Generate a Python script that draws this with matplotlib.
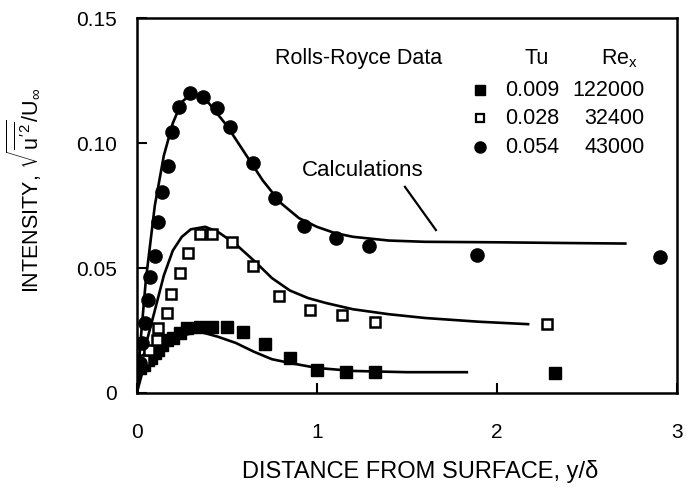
import matplotlib
matplotlib.use('Agg')
import matplotlib.pyplot as plt

plt.rcParams['font.family'] = ['Liberation Sans', 'DejaVu Sans']
plt.rcParams['mathtext.fontset'] = 'custom'
plt.rcParams['mathtext.rm'] = 'Liberation Sans'
plt.rcParams['mathtext.it'] = 'Liberation Sans'

# Rolls-Royce data, Tu = 0.009 (filled squares)
sq_x = [0.02, 0.04, 0.06, 0.08, 0.10, 0.12, 0.14, 0.17, 0.20, 0.24, 0.28,
        0.35, 0.42, 0.50, 0.59, 0.71, 0.85, 1.00, 1.16, 1.32, 2.32]
sq_y = [0.010, 0.011, 0.013, 0.014, 0.016, 0.017, 0.019, 0.021, 0.022, 0.024, 0.026,
        0.0265, 0.0265, 0.0265, 0.0245, 0.0196, 0.0141, 0.0092, 0.0085, 0.0085, 0.0081]

# Tu = 0.028 (open squares)
osq_x = [0.04, 0.07, 0.11, 0.12, 0.165, 0.19, 0.24, 0.285, 0.35, 0.42, 0.53,
         0.646, 0.79, 0.96, 1.14, 1.32, 2.28]
osq_y = [0.013, 0.017, 0.021, 0.026, 0.032, 0.0395, 0.048, 0.056, 0.0635, 0.0635, 0.0605,
         0.051, 0.039, 0.033, 0.031, 0.0285, 0.0275]

# Tu = 0.054 (filled circles)
circ_x = [0.02, 0.03, 0.045, 0.06, 0.072, 0.10, 0.115, 0.139, 0.174, 0.196, 0.235,
          0.298, 0.368, 0.446, 0.517, 0.643, 0.767, 0.928, 1.106, 1.29, 1.89, 2.906]
circ_y = [0.012, 0.020, 0.028, 0.037, 0.0465, 0.055, 0.0685, 0.0805, 0.091, 0.1045, 0.1145,
          0.120, 0.1185, 0.114, 0.1065, 0.092, 0.078, 0.067, 0.062, 0.0588, 0.0552, 0.0543]

# calculations
calc1_x = [0.0, 0.03, 0.08, 0.15, 0.25, 0.35, 0.45, 0.55, 0.65, 0.75, 0.85, 1.0, 1.2, 1.5, 1.84]
calc1_y = [0.0, 0.008, 0.014, 0.019, 0.023, 0.0245, 0.0225, 0.020, 0.0165, 0.0135, 0.012,
           0.0100, 0.0088, 0.0083, 0.0083]

calc2_x = [0.0, 0.03, 0.06, 0.1, 0.15, 0.2, 0.25, 0.3, 0.38, 0.45, 0.55, 0.65, 0.75, 0.85,
           0.95, 1.05, 1.2, 1.4, 1.6, 1.9, 2.18]
calc2_y = [0.0, 0.012, 0.022, 0.033, 0.047, 0.057, 0.0625, 0.0655, 0.0665, 0.0645, 0.0595,
           0.053, 0.046, 0.041, 0.038, 0.036, 0.0335, 0.0315, 0.030, 0.0285, 0.0275]

calc3_x = [0.0, 0.02, 0.05, 0.1, 0.15, 0.2, 0.25, 0.3, 0.35, 0.4, 0.5, 0.6, 0.7, 0.8, 0.9,
           1.0, 1.1, 1.2, 1.4, 1.6, 2.0, 2.4, 2.72]
calc3_y = [0.0, 0.02, 0.045, 0.075, 0.095, 0.108, 0.1165, 0.1195, 0.119, 0.116, 0.107, 0.096,
           0.085, 0.076, 0.070, 0.0665, 0.064, 0.0625, 0.061, 0.0605, 0.0603, 0.060, 0.0598]

legend_tu = ['0.009', '0.028', '0.054']
legend_re = ['122000', '32400', '43000']

fig = plt.figure(figsize=(6.98, 4.93), dpi=100)
ax = fig.add_axes([0.196, 0.203, 0.774, 0.760])

lw = 1.9
for cx, cy in [(calc1_x, calc1_y), (calc2_x, calc2_y), (calc3_x, calc3_y)]:
    ax.plot(cx, cy, color='black', lw=lw, solid_capstyle='butt')

ax.plot(sq_x, sq_y, 's', color='black', ms=8.5, mec='black')
ax.plot(osq_x, osq_y, 's', mfc='white', mec='black', mew=1.8, ms=7.5)
ax.plot(circ_x, circ_y, 'o', color='black', ms=9.5)

ax.set_xlim(0, 3)
ax.set_ylim(0, 0.15)
ax.set_xticks([0, 1, 2, 3])
ax.set_xticklabels(['0', '1', '2', '3'])
ax.set_yticks([0, 0.05, 0.10, 0.15])
ax.set_yticklabels(['0', '0.05', '0.10', '0.15'])
ax.tick_params(direction='in', length=7, width=1.5, labelsize=15)
ax.tick_params(axis='x', pad=22)
ax.tick_params(axis='y', pad=14)
for s in ax.spines.values():
    s.set_linewidth(1.8)

ax.set_xlabel('DISTANCE FROM SURFACE, y/δ', fontsize=17)
ax.set_ylabel(r"INTENSITY, $\sqrt{\overline{u'^2}}/U_\infty$", fontsize=15.5)
ax.xaxis.set_label_coords(0.524, -0.179)
ax.yaxis.set_label_coords(-0.174, 0.541)

# legend block drawn as text
fs = 15.5
ax.text(0.767, 0.134, 'Rolls-Royce Data', fontsize=fs, va='center', ha='left')
ax.text(2.22, 0.134, 'Tu', fontsize=fs, va='center', ha='center')
ax.text(2.68, 0.134, r'Re$_{\mathregular{x}}$', fontsize=fs, va='center', ha='center')
rows_y = [0.1212, 0.110, 0.0984]
styles = [dict(marker='s', color='black', ms=7),
          dict(marker='s', mfc='white', mec='black', mew=1.6, ms=6),
          dict(marker='o', color='black', ms=8)]
for yy, tu, re, st in zip(rows_y, legend_tu, legend_re, styles):
    ax.plot([1.905], [yy], linestyle='none', **st)
    ax.text(2.044, yy, tu, fontsize=fs, va='center', ha='left')
    ax.text(2.82, yy, re, fontsize=fs, va='center', ha='right')

ax.text(0.917, 0.0892, 'Calculations', fontsize=16, va='center', ha='left')
ax.plot([1.489, 1.661], [0.0825, 0.0652], color='black', lw=1.6)

fig.savefig('out.png', dpi=100)
